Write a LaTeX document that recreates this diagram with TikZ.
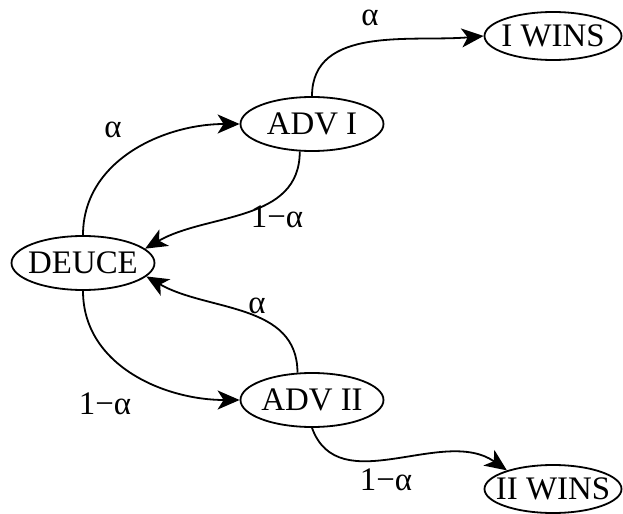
\documentclass[tikz,border=0pt]{standalone}
\usepackage{fontspec}
\setmainfont{Liberation Serif}
\usetikzlibrary{shapes,arrows.meta}

\begin{document}
\begin{tikzpicture}[x=1bp, y=1bp,
    every node/.style={font=\fontsize{33}{38}\selectfont},
    state/.style={ellipse, draw, line width=1.8bp, inner sep=0pt,
      minimum width=143bp, minimum height=54bp, label={center:#1}},
    final/.style={state=#1, minimum width=137bp, minimum height=48bp},
    move/.style={line width=1.8bp, -{Stealth[length=22bp,width=19bp,inset=6bp]}}]
    \useasboundingbox (0,0) rectangle (623,-514);
    % states
    \node[state=DEUCE] (deuce) at (83,-263) {};
    \node[state=ADV I] (advi) at (312,-124) {};
    \node[state=ADV II] (advii) at (312,-400) {};
    \node[final=I WINS] (iwins) at (553,-36) {};
    \node[final=II WINS] (iiwins) at (553,-489) {};
    % transitions
    \draw[move] (deuce.north) to[out=90,in=180] (advi.west);
    \draw[move] (advi.246) to[out=-90,in=30] (deuce.13);
    \draw[move] (advi.north) to[out=90,in=185] (iwins.west);
    \draw[move] (deuce.south) to[out=-90,in=180] (advii.west);
    \draw[move] (advii.118) to[out=90,in=-30] (deuce.-12);
    \draw[move] (advii.south) to[out=-70,in=145] (iiwins.158);
    % probabilities
    \node (ptop) at (370,-18) {α};
    \node (pleft) at (113,-130) {α};
    \node (qupper) at (277,-217) {1−α};
    \node (pmid) at (257,-306) {α};
    \node (qleft) at (105,-404) {1−α};
    \node (qright) at (386,-480) {1−α};
\end{tikzpicture}
\end{document}
